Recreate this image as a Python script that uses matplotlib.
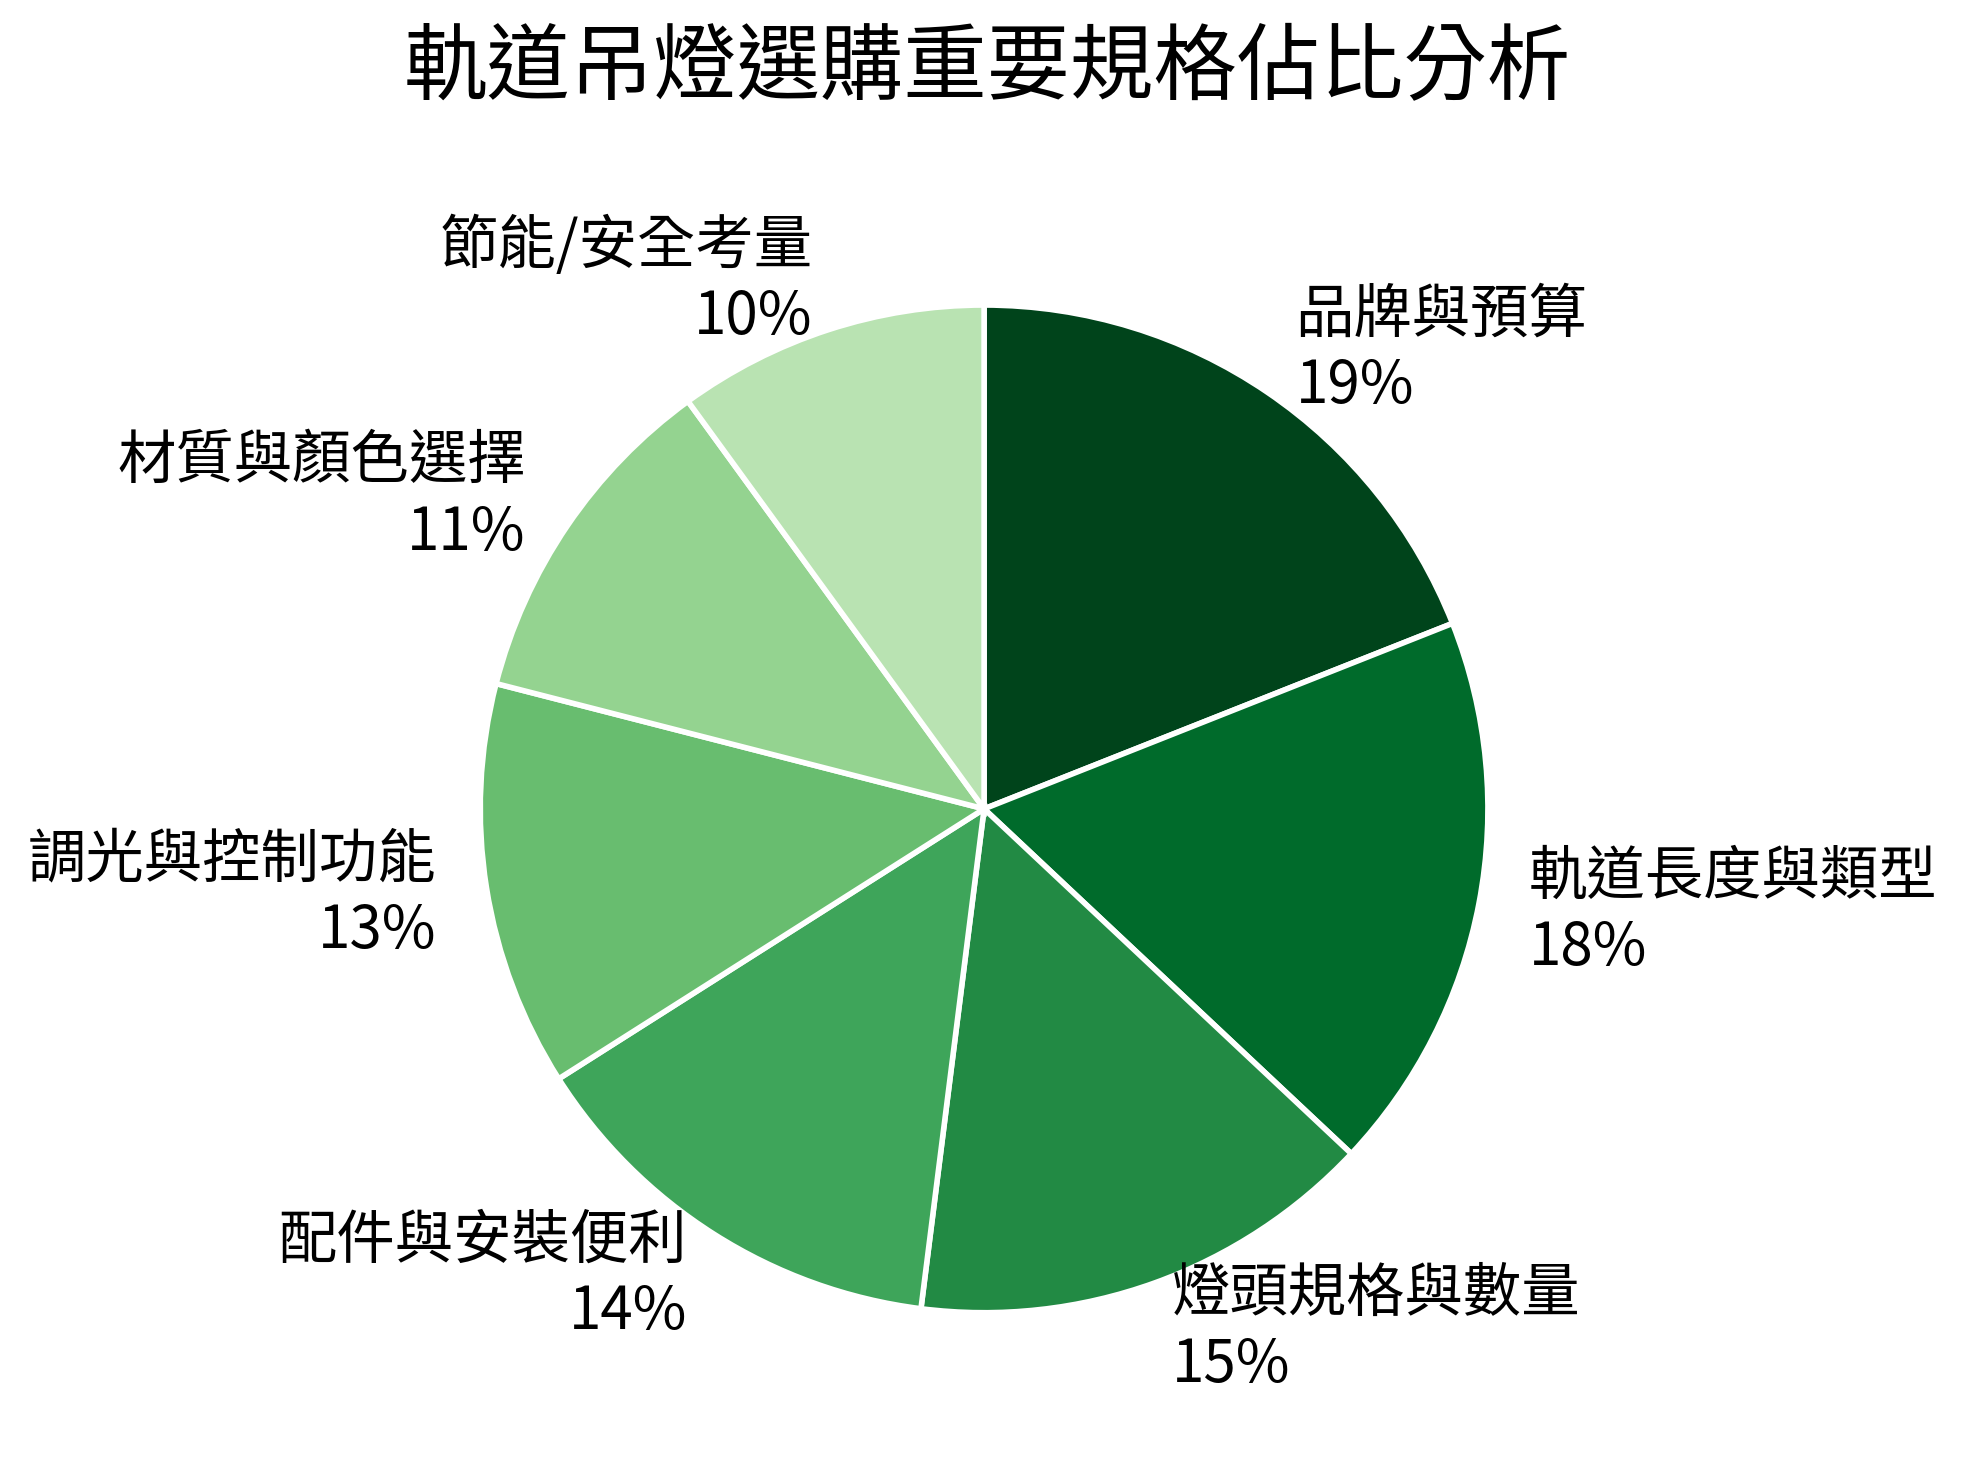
import matplotlib
matplotlib.use("Agg")
import matplotlib.pyplot as plt

plt.rcParams['font.family'] = ['Noto Sans CJK TC', 'DejaVu Sans']

categories = ["品牌與預算", "軌道長度與類型", "燈頭規格與數量", "配件與安裝便利",
              "調光與控制功能", "材質與顏色選擇", "節能/安全考量"]
shares = [19, 18, 15, 14, 13, 11, 10]
colours = ["#00441b", "#006b2b", "#228a44", "#3ea55a", "#68bd6f", "#94d390", "#b9e3b2"]

labels = [c + "\n" + str(v) + "%" for c, v in zip(categories, shares)]

fig = plt.figure(figsize=(19.67, 14.68), dpi=100)
ax = fig.add_axes([0.180, 0.020, 0.6406, 0.858])

wedges, texts = ax.pie(shares, labels=labels, colors=colours, startangle=90,
                       counterclock=False, labeldistance=1.1,
                       wedgeprops={"edgecolor": "white", "linewidth": 4},
                       textprops={"fontsize": 42, "linespacing": 1.22})
ax.set_xlim(-1.25, 1.25)
ax.set_ylim(-1.25, 1.25)
ax.set_aspect("equal")

fig.text(0.502, 0.954, "軌道吊燈選購重要規格佔比分析", fontsize=60,
         ha="center", va="center")

plt.savefig("out.png", dpi=100)
